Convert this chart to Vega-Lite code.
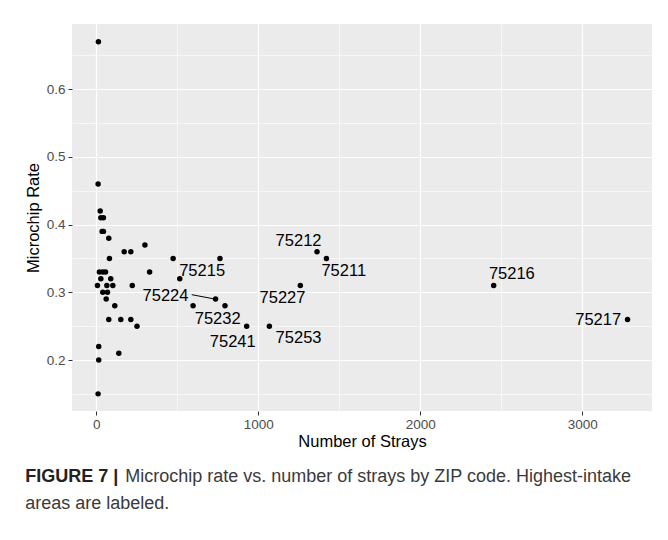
{
  "$schema": "https://vega.github.io/schema/vega-lite/v6.json",
  "width": 580,
  "height": 387,
  "autosize": {"type": "none"},
  "padding": {"left": 72, "top": 24, "right": 16, "bottom": 129},
  "background": "white",
  "config": {
    "font": "Liberation Sans",
    "view": {"fill": "#EBEBEB", "stroke": null}
  },
  "title": {
    "text": "FIGURE 7 |",
    "subtitle": ["\u200b\u00a0\u00a0\u00a0\u00a0\u00a0\u00a0\u00a0\u00a0\u00a0\u00a0\u00a0\u00a0\u00a0\u00a0\u00a0\u00a0\u00a0\u00a0\u00a0\u00a0Microchip rate vs. number of strays by ZIP code. Highest-intake", "areas are labeled."],
    "orient": "bottom",
    "anchor": "start",
    "frame": "bounds",
    "font": "Liberation Sans",
    "fontSize": 18,
    "fontWeight": "bold",
    "color": "#222222",
    "subtitleFont": "Liberation Sans",
    "subtitleFontSize": 18,
    "subtitleColor": "#3a3a3a",
    "subtitleLineHeight": 27,
    "subtitlePadding": -18,
    "offset": 18
  },
  "datasets": {
    "zips": [
      {"strays": 14, "rate": 0.67},
      {"strays": 12, "rate": 0.46},
      {"strays": 25, "rate": 0.42},
      {"strays": 29, "rate": 0.41},
      {"strays": 45, "rate": 0.41},
      {"strays": 37, "rate": 0.39},
      {"strays": 45, "rate": 0.39},
      {"strays": 78, "rate": 0.38},
      {"strays": 301, "rate": 0.37},
      {"strays": 173, "rate": 0.36},
      {"strays": 214, "rate": 0.36},
      {"strays": 82, "rate": 0.35},
      {"strays": 20, "rate": 0.33},
      {"strays": 41, "rate": 0.33},
      {"strays": 58, "rate": 0.33},
      {"strays": 330, "rate": 0.33},
      {"strays": 29, "rate": 0.32},
      {"strays": 90, "rate": 0.32},
      {"strays": 8, "rate": 0.31},
      {"strays": 66, "rate": 0.31},
      {"strays": 103, "rate": 0.31},
      {"strays": 223, "rate": 0.31},
      {"strays": 41, "rate": 0.30},
      {"strays": 70, "rate": 0.30},
      {"strays": 62, "rate": 0.29},
      {"strays": 115, "rate": 0.28},
      {"strays": 78, "rate": 0.26},
      {"strays": 152, "rate": 0.26},
      {"strays": 214, "rate": 0.26},
      {"strays": 252, "rate": 0.25},
      {"strays": 16, "rate": 0.22},
      {"strays": 140, "rate": 0.21},
      {"strays": 16, "rate": 0.20},
      {"strays": 12, "rate": 0.15},
      {"strays": 475, "rate": 0.35},
      {"strays": 516, "rate": 0.32, "zip": "75215"},
      {"strays": 598, "rate": 0.28},
      {"strays": 737, "rate": 0.29, "zip": "75224"},
      {"strays": 764, "rate": 0.35},
      {"strays": 795, "rate": 0.28, "zip": "75232"},
      {"strays": 929, "rate": 0.25, "zip": "75241"},
      {"strays": 1069, "rate": 0.25, "zip": "75253"},
      {"strays": 1260, "rate": 0.31, "zip": "75227"},
      {"strays": 1363, "rate": 0.36, "zip": "75212"},
      {"strays": 1421, "rate": 0.35, "zip": "75211"},
      {"strays": 2453, "rate": 0.31, "zip": "75216"},
      {"strays": 3279, "rate": 0.26, "zip": "75217"}
    ],
    "labels": [
      {"zip": "75212", "lx": 1249, "ly": 0.376},
      {"zip": "75211", "lx": 1528, "ly": 0.331},
      {"zip": "75215", "lx": 654, "ly": 0.332},
      {"zip": "75224", "lx": 428, "ly": 0.2945},
      {"zip": "75232", "lx": 750, "ly": 0.2606},
      {"zip": "75241", "lx": 843, "ly": 0.226},
      {"zip": "75253", "lx": 1249, "ly": 0.232},
      {"zip": "75227", "lx": 1150, "ly": 0.291},
      {"zip": "75216", "lx": 2565, "ly": 0.3266},
      {"zip": "75217", "lx": 3098, "ly": 0.259}
    ],
    "segments": [
      {"zip": "75224", "x1": 590, "y1": 0.2965, "x2": 722, "y2": 0.2905}
    ]
  },
  "resolve": {"axis": {"x": "independent", "y": "independent"}},
  "layer": [
    {
      "data": {"name": "zips"},
      "mark": {"type": "point", "opacity": 0},
      "encoding": {
        "x": {
          "field": "strays", "type": "quantitative",
          "scale": {"domain": [-149, 3430], "nice": false, "zero": false},
          "axis": {"orient": "top", "values": [500, 1500, 2500], "grid": true, "gridColor": "white", "gridWidth": 0.6, "labels": false, "ticks": false, "domain": false, "title": null}
        },
        "y": {
          "field": "rate", "type": "quantitative",
          "scale": {"domain": [0.1247, 0.6963], "nice": false, "zero": false},
          "axis": {"orient": "right", "values": [0.15, 0.25, 0.35, 0.45, 0.55, 0.65], "grid": true, "gridColor": "white", "gridWidth": 0.6, "labels": false, "ticks": false, "domain": false, "title": null}
        }
      }
    },
    {
      "data": {"name": "zips"},
      "mark": {"type": "circle", "size": 30, "color": "black", "opacity": 1},
      "encoding": {
        "x": {
          "field": "strays", "type": "quantitative",
          "scale": {"domain": [-149, 3430], "nice": false, "zero": false},
          "axis": {"orient": "bottom", "values": [0, 1000, 2000, 3000], "format": "d", "grid": true, "gridColor": "white", "gridWidth": 1.2, "domain": false, "tickColor": "#333333", "tickSize": 4, "tickWidth": 1, "labelColor": "#4D4D4D", "labelFontSize": 13.5, "labelPadding": 2, "title": "Number of Strays", "titleFontSize": 16.5, "titleFontWeight": "normal", "titleColor": "black", "titlePadding": 3}
        },
        "y": {
          "field": "rate", "type": "quantitative",
          "scale": {"domain": [0.1247, 0.6963], "nice": false, "zero": false},
          "axis": {"orient": "left", "values": [0.2, 0.3, 0.4, 0.5, 0.6], "format": ".1f", "grid": true, "gridColor": "white", "gridWidth": 1.2, "domain": false, "tickColor": "#333333", "tickSize": 4, "tickWidth": 1, "labelColor": "#4D4D4D", "labelFontSize": 13.5, "labelPadding": 3, "title": "Microchip Rate", "titleFontSize": 16.5, "titleFontWeight": "normal", "titleColor": "black", "titlePadding": 5}
        }
      }
    },
    {
      "data": {"name": "segments"},
      "mark": {"type": "rule", "color": "black", "strokeWidth": 1},
      "encoding": {
        "x": {"field": "x1", "type": "quantitative", "axis": null},
        "y": {"field": "y1", "type": "quantitative", "axis": null},
        "x2": {"field": "x2"},
        "y2": {"field": "y2"}
      }
    },
    {
      "data": {"name": "labels"},
      "mark": {"type": "text", "fontSize": 16.5, "font": "Liberation Sans", "color": "black", "align": "center", "baseline": "middle"},
      "encoding": {
        "x": {"field": "lx", "type": "quantitative", "axis": null},
        "y": {"field": "ly", "type": "quantitative", "axis": null},
        "text": {"field": "zip", "type": "nominal"}
      }
    }
  ]
}
